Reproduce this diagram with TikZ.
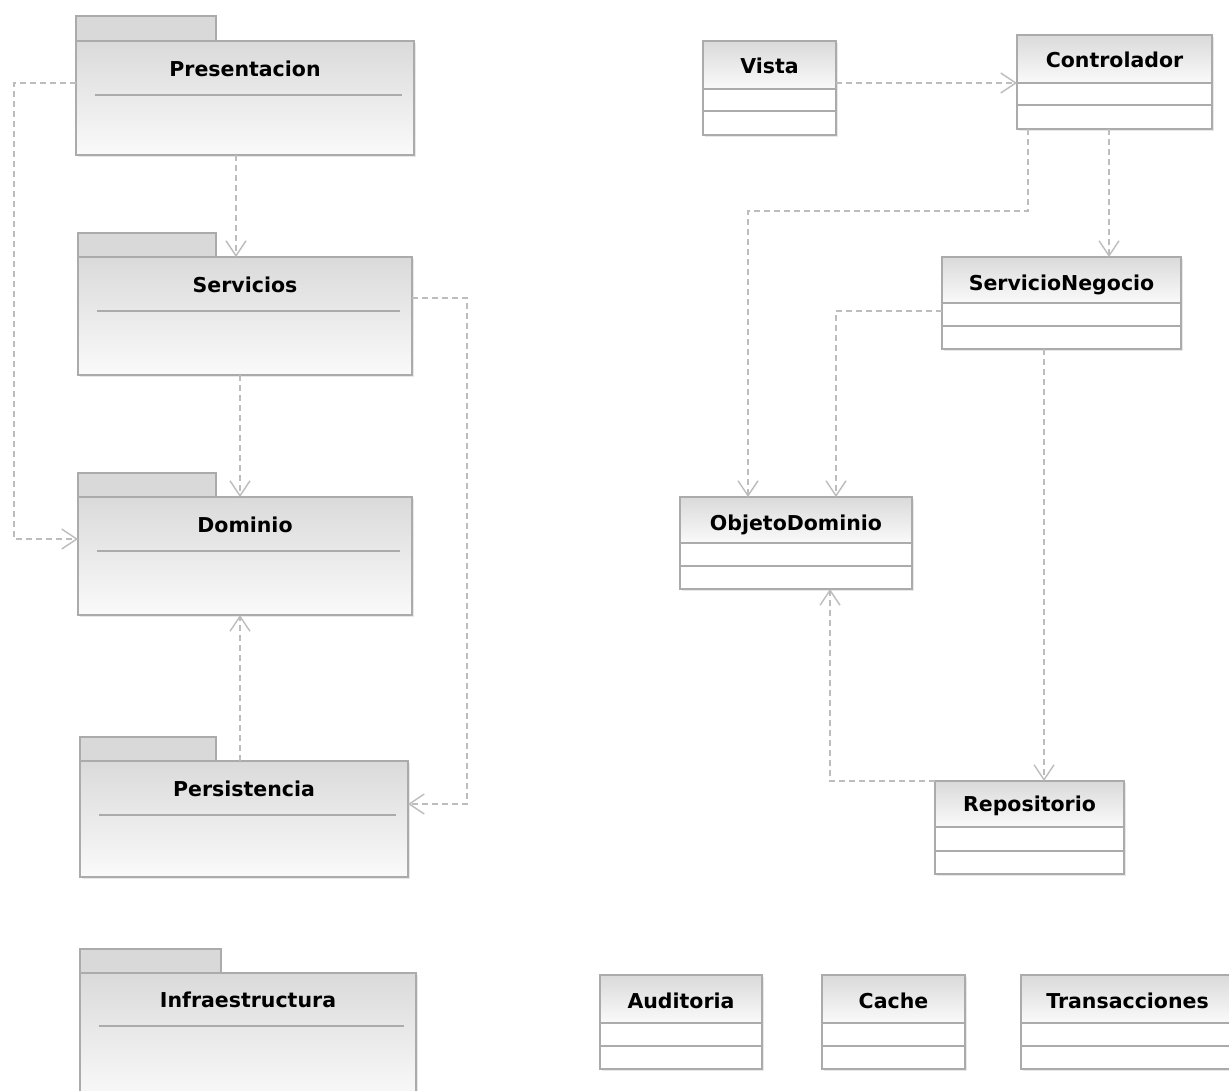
\documentclass[tikz,border=0pt]{standalone}
\usepackage{fontspec}
\setmainfont{DejaVu Sans}
\usetikzlibrary{arrows.meta,fit,calc}
\definecolor{ln}{HTML}{BDBDBD}
\definecolor{bd}{HTML}{ABABAB}
\definecolor{tabc}{HTML}{D9D9D9}
\definecolor{gtop}{HTML}{DADADA}
\definecolor{gbot}{HTML}{FAFAFA}
\definecolor{shd}{HTML}{E8E8E8}
\tikzset{
  box/.style={draw=bd, line width=1.3pt, inner sep=0pt, outer sep=0pt},
  pkgbody/.style={box, top color=gtop, bottom color=gbot},
  tabbox/.style={box, fill=tabc},
  lbl/.style={font=\fontsize{20.5}{24}\selectfont\bfseries, anchor=base, inner sep=0pt},
  sepline/.style={draw=bd, line width=1.3pt},
  dep/.style={draw=ln, line width=1.4pt, dash pattern=on 6pt off 4pt,
    -{Straight Barb[length=15pt,width=20pt,line width=1.4pt]}},
}
% package: #1 name, #2 x1, #3 tab right, #4 tab top, #5 body top, #6 x2, #7 bottom, #8 label, #9 baseline
\newcommand\umlpkg[9]{%
  \fill[shd] (#2+2,#5+2) rectangle (#6+2,#7+2);
  \draw[tabbox] (#2,#4) rectangle (#3,#5);
  \node[pkgbody, fit={(#2,#5) (#6,#7)}] (#1) {};
  \node[lbl] (#1-t) at ($(#2,#9)!0.5!(#6,#9)$) {#8};
  \draw[sepline] (#2+19,#9+19) -- (#6-12,#9+19);
}
% class: #1 name, #2 x1, #3 y1, #4 x2, #5 y2, #6 header bottom, #7 second line, #8 label, #9 baseline
\newcommand\umlcls[9]{%
  \fill[shd] (#2+2,#3+2) rectangle (#4+2,#5+2);
  \node[box, fill=white, fit={(#2,#3) (#4,#5)}] (#1) {};
  \draw[box, top color=gtop, bottom color=gbot] (#2,#3) rectangle (#4,#6);
  \draw[sepline] (#2,#7) -- (#4,#7);
  \node[lbl] (#1-t) at ($(#2,#9)!0.5!(#4,#9)$) {#8};
}
\begin{document}
\begin{tikzpicture}[x=1pt,y=-1pt]
\clip (0,0) rectangle (1229,1090);
\fill[white] (0,0) rectangle (1229,1090);

% packages
\umlpkg{pres}{76}{216}{16}{41}{414}{155}{Presentacion}{76}
\umlpkg{serv}{78}{216}{233}{257}{412}{375}{Servicios}{292}
\umlpkg{dom}{78}{216}{473}{497}{412}{615}{Dominio}{532}
\umlpkg{pers}{80}{216}{737}{761}{408}{877}{Persistencia}{796}
\umlpkg{infra}{80}{221}{949}{973}{416}{1100}{Infraestructura}{1007}

% classes
\umlcls{vista}{703}{41}{836}{135}{89}{111}{Vista}{73}
\umlcls{ctrl}{1017}{35}{1212}{129}{83}{105}{Controlador}{67}
\umlcls{sn}{942}{257}{1181}{349}{303}{326}{ServicioNegocio}{290}
\umlcls{obj}{680}{497}{912}{589}{543}{566}{ObjetoDominio}{530}
\umlcls{repo}{935}{781}{1124}{874}{827}{851}{Repositorio}{811}
\umlcls{aud}{600}{975}{762}{1069}{1023}{1046}{Auditoria}{1008}
\umlcls{cache}{822}{975}{965}{1069}{1023}{1046}{Cache}{1008}
\umlcls{trans}{1021}{975}{1234}{1069}{1023}{1046}{Transacciones}{1008}

% dependencies (left)
\draw[dep] (pres.west |- 0,83) -- (14,83) |- (dom.west |- 0,539);
\draw[dep] (236,0 |- pres.south) -- (236,0 |- serv.north);
\draw[dep] (serv.east |- 0,298) -- (467,298) |- (pers.east |- 0,804);
\draw[dep] (240,0 |- serv.south) -- (240,0 |- dom.north);
\draw[dep] (240,0 |- pers.north) -- (240,0 |- dom.south);

% dependencies (right)
\draw[dep] (vista.east |- 0,83) -- (ctrl.west |- 0,83);
\draw[dep] (1028,0 |- ctrl.south) -- (1028,211) -| (748,0 |- obj.north);
\draw[dep] (1109,0 |- ctrl.south) -- (1109,0 |- sn.north);
\draw[dep] (sn.west |- 0,311) -| (836,0 |- obj.north);
\draw[dep] (1044,0 |- sn.south) -- (1044,0 |- repo.north);
\draw[dep] (repo.north west) -| (830,0 |- obj.south);
\end{tikzpicture}
\end{document}
